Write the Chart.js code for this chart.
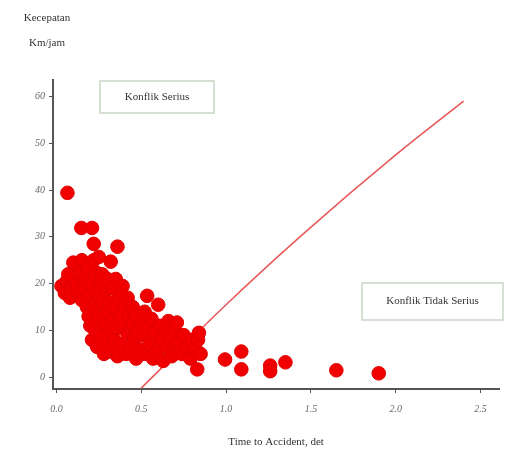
<!DOCTYPE html>
<html>
<head>
<meta charset="utf-8">
<script src="https://cdn.jsdelivr.net/npm/chart.js@4.4.1/dist/chart.umd.min.js"></script>
<style>
html,body{margin:0;padding:0;background:#fff;}
#wrap{width:507px;height:453px;position:relative;}
</style>
</head>
<body>
<div id="wrap"><canvas id="c" width="507" height="453"></canvas></div>
<script>
// ---- data ----
const speedTitle = ['Kecepatan', 'Km/jam'];
const xTitle = 'Time to Accident, det';
const xTickValues = [0, 0.5, 1.0, 1.5, 2.0, 2.5];
const yTickValues = [0, 10, 20, 30, 40, 50, 60];
const zoneLabels = ['Konflik Serius', 'Konflik Tidak Serius'];

// conflict observations: time to accident (det)
const ttaValues = [
  0.065,0.147,0.21,0.22,0.36,
  0.03,0.05,0.06,0.08,0.09,0.10,0.11,0.10,0.12,0.13,0.14,0.15,0.15,0.07,
  0.16,0.17,0.18,0.18,0.19,0.20,0.20,0.21,0.21,0.22,0.22,0.23,0.23,0.24,0.24,0.25,0.25,0.26,0.26,0.27,0.27,0.28,0.28,0.29,0.29,0.30,0.30,0.31,0.31,0.32,0.32,
  0.33,0.33,0.34,0.35,0.35,0.36,0.36,0.37,0.38,0.38,0.39,0.40,0.40,0.41,0.42,0.42,0.43,0.44,0.45,0.45,0.46,0.47,0.47,0.48,0.49,0.50,
  0.51,0.52,0.52,0.535,0.54,0.55,0.56,0.57,0.58,0.60,0.60,0.61,0.62,0.63,0.64,0.65,0.66,0.67,0.68,0.70,
  0.71,0.72,0.74,0.75,0.77,0.79,0.80,0.82,0.835,0.83,0.85,0.84,
  0.994,1.09,1.09,1.26,1.26,1.35,1.65,1.90
];
// conflict observations: speed (km/jam)
const speedValues = [
  39.4,31.9,31.9,28.5,27.9,
  19.5,18,20.5,17,19,21.5,23,24.5,20,18,22,25,16.5,22,
  19,21,15,23.5,13,17.5,11,20,8,25,15,22.5,10,18,6.5,25.7,13,20,9,16,22,11.5,5,18.5,7.5,14,21,10,16,24.7,5.5,
  19,12.5,8,15,21,10.5,4.5,17,13,7,19.5,11,15.5,5,9,17,13,6.5,11.5,15,8.5,4,13,10,6,12,
  9,14,5,17.4,11,7,12.5,4,9.5,15.5,6,11,8,3.5,10,6.5,12,8.5,4.5,10,
  11.7,7,5,9,6.5,4,8,6,8,1.7,5,9.5,
  3.8,5.5,1.7,2.5,1.3,3.2,1.5,0.85
];
// boundary curve between serious / non-serious conflict
const curveX = [0.5, 1.0, 1.435, 2.0, 2.4];
const curveY = [-2.3, 15.5, 30, 47.5, 59];

const scatterPts = ttaValues.map((x, i) => ({x: x, y: speedValues[i]}));
const curvePts = curveX.map((x, i) => ({x: x, y: curveY[i]}));

const overlay = {
  id: 'overlay',
  afterDraw(chart) {
    const ctx = chart.ctx;
    const xs = chart.scales.x, ys = chart.scales.y;
    ctx.save();
    ctx.fillStyle = '#333';
    ctx.font = '11px "Liberation Serif", serif';
    ctx.textAlign = 'center';
    ctx.textBaseline = 'middle';
    ctx.fillText(speedTitle[0], 47, 18);
    ctx.fillText(speedTitle[1], 47, 43);
    // zone boxes
    const boxes = [
      {x0: 100, y0: 81, x1: 214, y1: 113, t: zoneLabels[0]},
      {x0: 362, y0: 283, x1: 503, y1: 320, t: zoneLabels[1]}
    ];
    ctx.font = '11px "Liberation Serif", serif';
    boxes.forEach(b => {
      ctx.fillStyle = '#fff';
      ctx.fillRect(b.x0, b.y0, b.x1 - b.x0, b.y1 - b.y0);
      ctx.strokeStyle = '#c9d6c4';
      ctx.lineWidth = 1.5;
      ctx.strokeRect(b.x0, b.y0, b.x1 - b.x0, b.y1 - b.y0);
      ctx.fillStyle = '#333';
      ctx.fillText(b.t, (b.x0 + b.x1) / 2, (b.y0 + b.y1) / 2);
    });
    ctx.restore();
  }
};

new Chart(document.getElementById('c'), {
  type: 'scatter',
  data: {
    datasets: [
      {
        type: 'line',
        data: curvePts,
        borderColor: 'rgb(232,90,90)',
        borderWidth: 1.6,
        pointRadius: 0,
        tension: 0.4,
        cubicInterpolationMode: 'monotone',
        fill: false,
        clip: false,
        order: 2
      },
      {
        data: scatterPts,
        backgroundColor: 'rgb(240,0,0)',
        borderColor: 'rgb(225,0,0)',
        borderWidth: 1,
        pointRadius: 6.8,
        pointHoverRadius: 6.8,
        order: 1
      }
    ]
  },
  options: {
    responsive: false,
    animation: false,
    events: [],
    layout: {padding: {left: 0, top: 80, right: 7, bottom: 0}},
    plugins: {legend: {display: false}, tooltip: {enabled: false}, title: {display: false}},
    scales: {
      x: {
        type: 'linear',
        min: -0.02,
        max: 2.61,
        afterBuildTicks: s => { s.ticks = xTickValues.map(v => ({value: v})); },
        afterFit: s => { s.height = 64; },
        border: {color: '#555', width: 2},
        grid: {drawOnChartArea: false, tickLength: 4, color: '#555'},
        ticks: {
          padding: 10,
          color: '#666',
          font: {family: '"Liberation Serif", serif', size: 10, style: 'italic'},
          callback: v => Number(v).toFixed(1)
        },
        title: {
          display: true,
          text: xTitle,
          color: '#333',
          font: {family: '"Liberation Serif", serif', size: 11},
          padding: {top: 12, bottom: 4}
        }
      },
      y: {
        type: 'linear',
        min: -2.5,
        max: 63.5,
        afterBuildTicks: s => { s.ticks = yTickValues.map(v => ({value: v})); },
        afterFit: s => { s.width = 53; },
        border: {color: '#555', width: 2},
        grid: {drawOnChartArea: false, tickLength: 4, color: '#555'},
        ticks: {
          padding: 4,
          color: '#666',
          font: {family: '"Liberation Serif", serif', size: 10, style: 'italic'}
        }
      }
    }
  },
  plugins: [overlay]
});
</script>
</body>
</html>
